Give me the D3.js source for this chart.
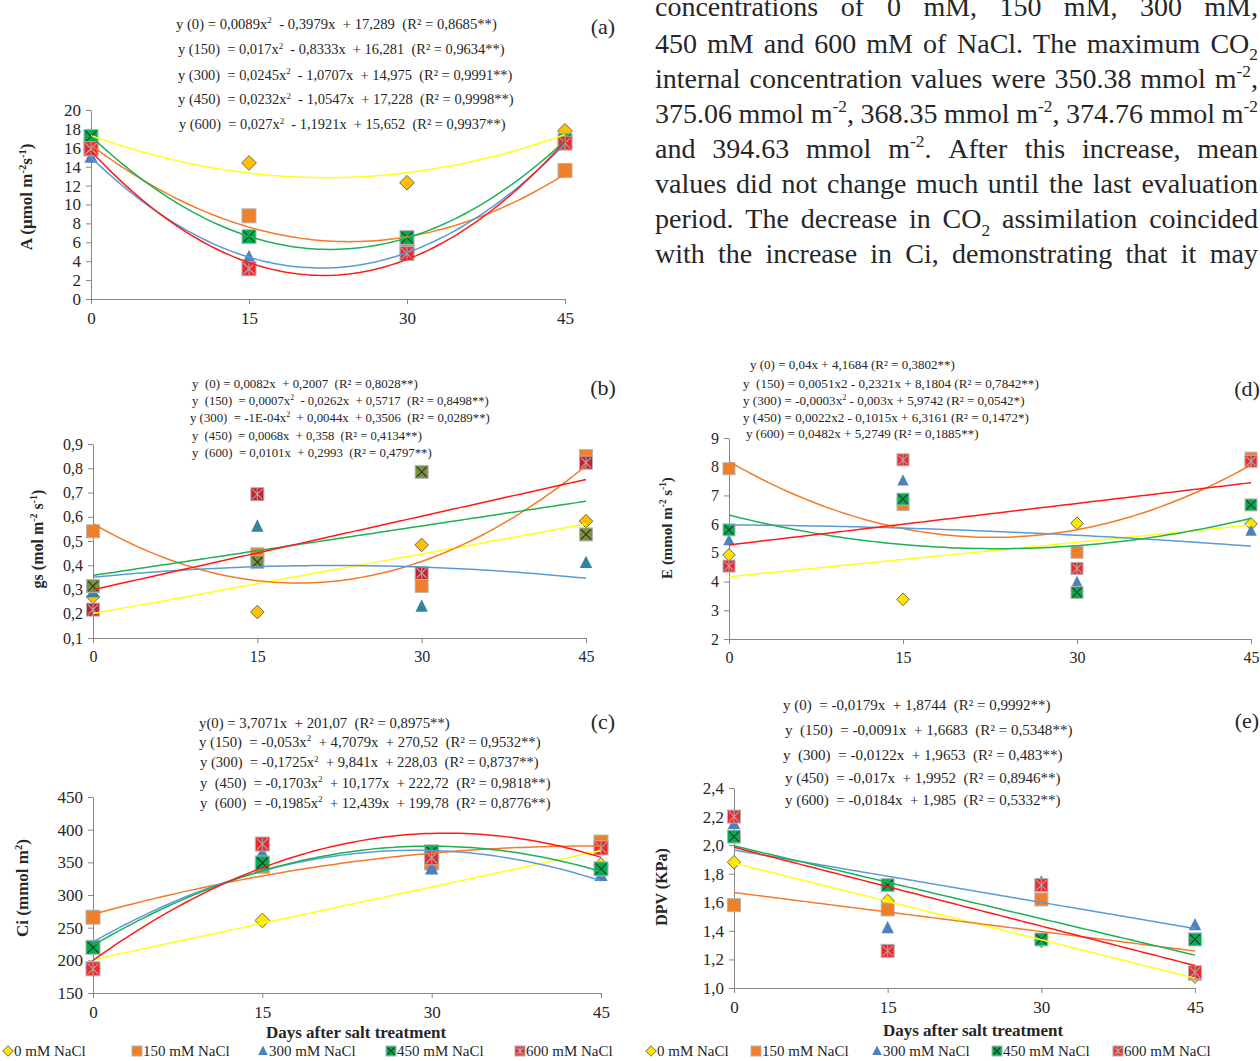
<!DOCTYPE html>
<html>
<head>
<meta charset="utf-8">
<script src="https://cdn.jsdelivr.net/npm/d3@7"></script>
<style>
body { margin: 0; background: #fff; }
svg text { font-family: "Liberation Serif", "Times New Roman", serif; fill: #262626; white-space: pre; }
</style>
</head>
<body>
<script>
var width = 1260, height = 1061;

// days after salt treatment and NaCl treatments
var days = [0, 15, 30, 45];
var treatments = ["0 mM NaCl", "150 mM NaCl", "300 mM NaCl", "450 mM NaCl", "600 mM NaCl"];

// (a) CO2 assimilation A
var aValues = [
  [16.9, 14.4, 12.3, 17.8],
  [15.9, 8.8, 5.4, 13.6],
  [15.0, 4.4, 4.9, 16.4],
  [17.2, 6.6, 6.5, 16.8],
  [15.9, 3.2, 4.8, 16.5]];
var aFit = [[0.0089, -0.3979, 17.289], [0.017, -0.8333, 16.281], [0.0245, -1.0707, 14.975], [0.0232, -1.0547, 17.228], [0.027, -1.1921, 15.652]];
var aEquations = [
  "y (0) = 0,0089x^{2}  - 0,3979x  + 17,289  (R² = 0,8685**)",
  "y (150)  = 0,017x^{2}  - 0,8333x  + 16,281  (R² = 0,9634**)",
  "y (300)  = 0,0245x^{2}  - 1,0707x  + 14,975  (R² = 0,9991**)",
  "y (450)  = 0,0232x^{2}  - 1,0547x  + 17,228  (R² = 0,9998**)",
  "y (600)  = 0,027x^{2}  - 1,1921x  + 15,652  (R² = 0,9937**)"];
var aTicks = [0, 2, 4, 6, 8, 10, 12, 14, 16, 18, 20];

// (b) stomatal conductance gs
var gsValues = [
  [0.27, 0.207, 0.484, 0.582],
  [0.54, 0.445, 0.315, 0.85],
  [0.29, 0.56, 0.23, 0.41],
  [0.314, 0.413, 0.785, 0.527],
  [0.217, 0.693, 0.368, 0.823]];
var gsFit = [[0, 0.0082, 0.2007], [0.0007, -0.0262, 0.5717], [-0.0001, 0.0044, 0.3506], [0, 0.0068, 0.358], [0, 0.0101, 0.2993]];
var gsEquations = [
  "y  (0) = 0,0082x  + 0,2007  (R² = 0,8028**)",
  "y  (150)  = 0,0007x^{2}  - 0,0262x  + 0,5717  (R² = 0,8498**)",
  "y (300)  = -1E-04x^{2}  + 0,0044x  + 0,3506  (R² = 0,0289**)",
  "y  (450)  = 0,0068x  + 0,358  (R² = 0,4134**)",
  "y  (600)  = 0,0101x  + 0,2993  (R² = 0,4797**)"];
var gsTicks = [0.1, 0.2, 0.3, 0.4, 0.5, 0.6, 0.7, 0.8, 0.9];

// (d) transpiration E
var eValues = [
  [4.93, 3.38, 6.03, 6.01],
  [7.93, 6.68, 5.02, 8.30],
  [5.43, 7.51, 3.97, 5.76],
  [5.80, 6.87, 3.62, 6.67],
  [4.54, 8.24, 4.46, 8.19]];
var eFit = [[0, 0.04, 4.1684], [0.0051, -0.2321, 8.1804], [-0.0003, -0.003, 5.9742], [0.0022, -0.1015, 6.3161], [0, 0.0482, 5.2749]];
var eEquations = [
  "y (0) = 0,04x + 4,1684 (R² = 0,3802**)",
  "y  (150) = 0,0051x2 - 0,2321x + 8,1804 (R² = 0,7842**)",
  "y (300) = -0,0003x^{2} - 0,003x + 5,9742 (R² = 0,0542*)",
  "y (450) = 0,0022x2 - 0,1015x + 6,3161 (R² = 0,1472*)",
  "y (600) = 0,0482x + 5,2749 (R² = 0,1885**)"];
var eTicks = [2, 3, 4, 5, 6, 7, 8, 9];

// (c) internal CO2 concentration Ci
var ciValues = [
  [188, 261, 343, 346],
  [266, 344, 349, 381],
  [219, 364, 340, 330],
  [220, 349, 366, 340],
  [187, 378, 357, 372]];
var ciFit = [[0, 3.7071, 201.07], [-0.053, 4.7079, 270.52], [-0.1725, 9.841, 228.03], [-0.1703, 10.177, 222.72], [-0.1985, 12.439, 199.78]];
var ciEquations = [
  "y(0) = 3,7071x  + 201,07  (R² = 0,8975**)",
  "y (150)  = -0,053x^{2}  + 4,7079x  + 270,52  (R² = 0,9532**)",
  "y (300)  = -0,1725x^{2}  + 9,841x  + 228,03  (R² = 0,8737**)",
  "y  (450)  = -0,1703x^{2}  + 10,177x  + 222,72  (R² = 0,9818**)",
  "y  (600)  = -0,1985x^{2}  + 12,439x  + 199,78  (R² = 0,8776**)"];
var ciTicks = [150, 200, 250, 300, 350, 400, 450];

// (e) vapour pressure deficit DPV
var dpvValues = [
  [1.88, 1.61, 1.33, 1.08],
  [1.58, 1.55, 1.62, 1.10],
  [2.15, 1.42, 1.74, 1.44],
  [2.06, 1.72, 1.34, 1.34],
  [2.20, 1.26, 1.72, 1.11]];
var dpvFit = [[0, -0.0179, 1.8744], [0, -0.0091, 1.6683], [0, -0.0122, 1.9653], [0, -0.017, 1.9952], [0, -0.0184, 1.985]];
var dpvEquations = [
  "y (0)  = -0,0179x  + 1,8744  (R² = 0,9992**)",
  "y  (150)  = -0,0091x  + 1,6683  (R² = 0,5348**)",
  "y  (300)  = -0,0122x  + 1,9653  (R² = 0,483**)",
  "y (450)  = -0,017x  + 1,9952  (R² = 0,8946**)",
  "y (600)  = -0,0184x  + 1,985  (R² = 0,5332**)"];
var dpvTicks = [1.0, 1.2, 1.4, 1.6, 1.8, 2.0, 2.2, 2.4];

// text block at the top right
var paragraphLines = [
  "concentrations of 0 mM, 150 mM, 300 mM,",
  "450 mM and 600 mM of NaCl. The maximum CO_{2}",
  "internal concentration values were 350.38 mmol m^{-2},",
  "375.06 mmol m^{-2}, 368.35 mmol m^{-2}, 374.76 mmol m^{-2}",
  "and 394.63 mmol m^{-2}. After this increase, mean",
  "values did not change much until the last evaluation",
  "period. The decrease in CO_{2} assimilation coincided",
  "with the increase in Ci, demonstrating that it may"];

var lineColors = ["#FFFF1A", "#F47A26", "#5B9BD5", "#1DB054", "#FF1A1A"];
var fillsBright = ["#FFE600", "#F07F29", "#4F81BD", "#00B050", "#F0282D"];
var fillsGold = ["#FFC000", "#F07F29", "#4F81BD", "#00B050", "#F0282D"];
var fillsDark = ["#FFC000", "#F07F29", "#31859C", "#77933C", "#C8202E"];

var comma1 = function(v) { return v.toFixed(1).replace(".", ","); };

var panels = [
  {label: "(a)", values: aValues, fit: aFit, eqs: aEquations, ticks: aTicks, fmt: d3.format("d"),
   x0: 91, x1: 565, yTop: 110, yBot: 299, fills: fillsGold, size: 14, tickFont: 17,
   title: "A (µmol m^{-2}s^{-1})", titleX: 32, titleY: 197, titleFont: 17,
   lx: 603, ly: 34, eqFont: 14.5,
   eqPos: [[176, 321, 29], [178, 327, 54], [178, 335, 80], [178, 336, 104], [179, 327, 129]]},
  {label: "(b)", values: gsValues, fit: gsFit, eqs: gsEquations, ticks: gsTicks, fmt: comma1,
   x0: 93, x1: 586, yTop: 444, yBot: 638, fills: fillsDark, size: 13, tickFont: 16,
   title: "gs (mol m^{-2} s^{-1})", titleX: 43, titleY: 539, titleFont: 16,
   lx: 603, ly: 395, eqFont: 13,
   eqPos: [[192, 226, 388], [192, 297, 405], [190, 300, 422], [192, 230, 440], [192, 240, 457]]},
  {label: "(d)", values: eValues, fit: eFit, eqs: eEquations, ticks: eTicks, fmt: d3.format("d"),
   x0: 729, x1: 1251, yTop: 438, yBot: 639, fills: fillsBright, size: 12, tickFont: 16,
   title: "E (mmol m^{-2} s^{-1})", titleX: 672, titleY: 528, titleFont: 15,
   lx: 1247, ly: 396, eqFont: 13,
   eqPos: [[750, 205, 369], [743, 296, 388], [743, 282, 405], [743, 286, 422], [746, 233, 438]]},
  {label: "(c)", values: ciValues, fit: ciFit, eqs: ciEquations, ticks: ciTicks, fmt: d3.format("d"),
   x0: 93, x1: 601, yTop: 797, yBot: 993, fills: fillsBright, size: 14, tickFont: 17,
   title: "Ci (mmol m^{2})", titleX: 28, titleY: 888, titleFont: 17,
   lx: 603, ly: 729, eqFont: 14.5,
   eqPos: [[199, 251, 728], [199, 342, 747], [200, 339, 767], [200, 351, 788], [200, 351, 808]]},
  {label: "(e)", values: dpvValues, fit: dpvFit, eqs: dpvEquations, ticks: dpvTicks, fmt: comma1,
   x0: 734, x1: 1195, yTop: 788, yBot: 988, fills: fillsBright, size: 13, tickFont: 17,
   title: "DPV (KPa)", titleX: 667, titleY: 887, titleFont: 16,
   lx: 1247, ly: 728, eqFont: 14.5,
   eqPos: [[783, 268, 710], [785, 288, 735], [783, 280, 760], [785, 276, 783], [785, 276, 805]]}
];

var svg = d3.select("body")
            .append("svg")
            .attr("width", width)
            .attr("height", height);

svg.append("rect").attr("width", width).attr("height", height).attr("fill", "#fff");

// text with ^{sup} and _{sub} parts
function rich(t, str, fs) {
  var parts = str.split(/(\^\{[^}]*\}|_\{[^}]*\})/);
  var cur = 0;
  parts.forEach(function(p) {
    if (!p) return;
    var ts = t.append("tspan");
    var target = 0;
    if (p.indexOf("^{") == 0) {
      target = -fs * 0.38;
      ts.text(p.slice(2, -1)).attr("font-size", fs * 0.62);
    } else if (p.indexOf("_{") == 0) {
      target = fs * 0.28;
      ts.text(p.slice(2, -1)).attr("font-size", fs * 0.62);
    } else {
      ts.text(p);
    }
    if (target - cur != 0) ts.attr("dy", target - cur);
    cur = target;
  });
}

function drawMarker(g, s, cx, cy, size, fills) {
  var h = size / 2;
  if (s == 0) {
    var k = h * 1.05;
    g.append("path")
     .attr("d", "M" + cx + "," + (cy - k) + "L" + (cx + k) + "," + cy + "L" + cx + "," + (cy + k) + "L" + (cx - k) + "," + cy + "Z")
     .attr("fill", fills[0]).attr("stroke", "#5a5a5a").attr("stroke-width", 0.9);
  } else if (s == 2) {
    g.append("path")
     .attr("d", "M" + cx + "," + (cy - h * 1.1) + "L" + (cx + h * 0.95) + "," + (cy + h * 0.8) + "L" + (cx - h * 0.95) + "," + (cy + h * 0.8) + "Z")
     .attr("fill", fills[2]);
  } else {
    g.append("rect")
     .attr("x", cx - h).attr("y", cy - h).attr("width", size).attr("height", size)
     .attr("fill", fills[s]).attr("stroke", "#b4b4b4").attr("stroke-width", 1);
    if (s >= 3) {
      var c = s == 3 ? "#2e2e2e" : "#a8a8a8";
      var m = h - 1.5;
      g.append("path")
       .attr("d", "M" + (cx - m) + "," + (cy - m) + "L" + (cx + m) + "," + (cy + m) + "M" + (cx + m) + "," + (cy - m) + "L" + (cx - m) + "," + (cy + m) +
             (s == 4 ? "M" + cx + "," + (cy - m - 1) + "L" + cx + "," + (cy + m + 1) : ""))
       .attr("stroke", c).attr("stroke-width", 1.1).attr("fill", "none");
    }
  }
}

function styleAxis(ga, fs) {
  ga.attr("font-family", null).attr("font-size", fs);
  ga.select(".domain").attr("stroke", "#868686");
  ga.selectAll(".tick line").attr("stroke", "#868686");
}

function drawPanel(p) {
  var g = svg.append("g");
  var x = d3.scaleLinear().domain([0, 45]).range([p.x0, p.x1]);
  var y = d3.scaleLinear().domain([p.ticks[0], p.ticks[p.ticks.length - 1]]).range([p.yBot, p.yTop]);

  //Y axis
  var yAxis = d3.axisLeft(y).tickValues(p.ticks).tickFormat(p.fmt)
                .tickSize(5).tickSizeOuter(0).tickPadding(5);
  styleAxis(g.append("g").attr("transform", "translate(" + p.x0 + ",0)").call(yAxis), p.tickFont);

  //X axis
  var xAxis = d3.axisBottom(x).tickValues(days).tickFormat(d3.format("d"))
                .tickSize(5).tickSizeOuter(0).tickPadding(8);
  styleAxis(g.append("g").attr("transform", "translate(0," + p.yBot + ")").call(xAxis), p.tickFont);

  //Markers
  p.values.forEach(function(vals, s) {
    vals.forEach(function(v, i) {
      drawMarker(g, s, x(days[i]), y(v), p.size, p.fills);
    });
  });

  //Trendlines from the printed equations
  var line = d3.line().x(function(d) { return x(d[0]); }).y(function(d) { return y(d[1]); });
  var xs = d3.range(0, 45.001, 0.5);
  p.fit.forEach(function(c, s) {
    var pts = xs.map(function(t) { return [t, c[0] * t * t + c[1] * t + c[2]]; });
    g.append("path").attr("d", line(pts))
     .attr("fill", "none").attr("stroke", lineColors[s]).attr("stroke-width", 1.5);
  });

  //Equations
  p.eqs.forEach(function(eq, i) {
    var pos = p.eqPos[i];
    var eg = g.append("g");
    var t = eg.append("text").attr("font-size", p.eqFont);
    rich(t, eq, p.eqFont);
    var w = t.node().getBBox().width;
    eg.attr("transform", "translate(" + pos[0] + "," + pos[2] + ") scale(" + (pos[1] / w) + ",1)");
  });

  //Y axis title
  var tt = g.append("text")
            .attr("transform", "translate(" + p.titleX + "," + p.titleY + ") rotate(-90)")
            .attr("text-anchor", "middle")
            .attr("font-weight", "bold")
            .attr("font-size", p.titleFont);
  rich(tt, p.title, p.titleFont);

  //Panel label
  g.append("text").attr("x", p.lx).attr("y", p.ly)
   .attr("text-anchor", "middle").attr("font-size", 22).text(p.label);
}

panels.forEach(drawPanel);

//X axis titles
[[356, 1038], [973, 1036]].forEach(function(d) {
  svg.append("text").attr("x", d[0]).attr("y", d[1])
     .attr("text-anchor", "middle").attr("font-weight", "bold").attr("font-size", 17)
     .text("Days after salt treatment");
});

//Legends
var legendRows = [[3, 132, 258, 386, 515], [646, 751, 872, 992, 1113]];
legendRows.forEach(function(row) {
  row.forEach(function(lx, s) {
    drawMarker(svg, s, lx + 5, 1051, 10, fillsBright);
    svg.append("text").attr("x", lx + 11).attr("y", 1056)
       .attr("font-size", 15).text(treatments[s]);
  });
});

//Paragraph (justified)
var paraFont = 28, paraLeft = 655, paraRight = 1258;
var paraBase = [16, 52.5, 87.5, 122.5, 158, 193, 228, 263];
var pg = svg.append("g");
var W = paraRight - paraLeft, L = paraLeft;
paragraphLines.forEach(function(line, i) {
  var words = line.split(" ");
  var lg = pg.append("g");
  var ws = words.map(function(w) {
    var t = lg.append("text").attr("font-size", paraFont).attr("y", paraBase[i]);
    rich(t, w, paraFont);
    return {t: t, w: t.node().getBBox().width};
  });
  var sum = d3.sum(ws, function(d) { return d.w; });
  var sp = paraFont * 0.22;
  var natural = sum + sp * (words.length - 1);
  var gap = sp, k = 1;
  if (natural >= W) { k = W / natural; } else { gap = (W - sum) / (words.length - 1); }
  var cx = 0;
  ws.forEach(function(d) { d.t.attr("x", cx); cx += d.w + gap; });
  lg.attr("transform", "translate(" + L + ",0) scale(" + k + ",1)");
});
</script>
</body>
</html>
